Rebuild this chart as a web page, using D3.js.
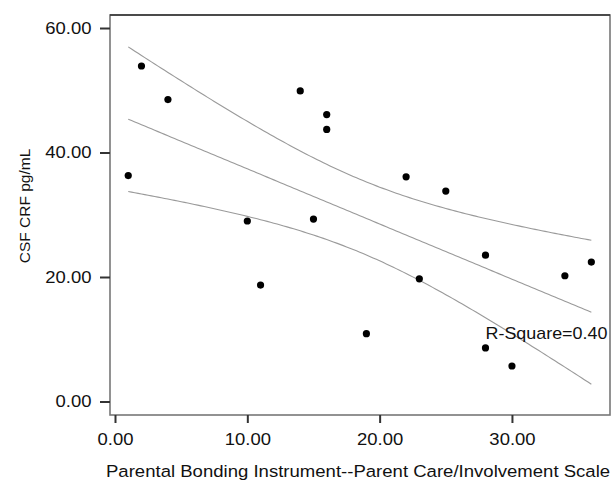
<!DOCTYPE html>
<html>
<head>
<meta charset="utf-8">
<script src="https://cdn.jsdelivr.net/npm/d3@7"></script>
<style>
  html, body { margin: 0; padding: 0; background: #fff; }
  svg text { font-family: "Liberation Sans", Arial, sans-serif; fill: #111; }
</style>
</head>
<body>
<svg id="chart" width="611" height="482"></svg>
<script>
// PBI parent care score (x) vs CSF CRF pg/mL (y)
const pbiCare = [1, 2, 4, 10, 11, 14, 15, 16, 16, 19, 22, 23, 25, 28, 28, 30, 34, 36];
const csfCrf = [36.3, 53.9, 48.5, 29.0, 18.7, 49.9, 29.3, 46.1, 43.7, 10.9, 36.1, 19.7, 33.8, 23.5, 8.6, 5.7, 20.2, 22.4];
const xTicks = [0, 10, 20, 30];
const yTicks = [0, 20, 40, 60];

const plotL = 110, plotR = 610, plotT = 15, plotB = 415;
const sx = 1.12; // labels in the source are a bit wide

const svg = d3.select("#chart");

const x = d3.scaleLinear().domain([-0.378, 37.41]).range([plotL, plotR]);
const y = d3.scaleLinear().domain([-2.17, 62.09]).range([plotB, plotT]);

// linear fit + 95% CI of the mean
const n = pbiCare.length;
const mx = d3.mean(pbiCare), my = d3.mean(csfCrf);
let sxx = 0, sxy = 0, syy = 0;
for (let i = 0; i < n; i++) {
  const dx = pbiCare[i] - mx, dy = csfCrf[i] - my;
  sxx += dx * dx; sxy += dx * dy; syy += dy * dy;
}
const slope = sxy / sxx;
const icpt = my - slope * mx;
const r2 = (sxy * sxy) / (sxx * syy);
const se = Math.sqrt(syy * (1 - r2) / (n - 2));
const tCrit = 2.12; // df = 16

const xs = d3.range(d3.min(pbiCare), d3.max(pbiCare) + 0.001, 0.25);
const band = xs.map(v => {
  const fit = icpt + slope * v;
  const h = tCrit * se * Math.sqrt(1 / n + (v - mx) * (v - mx) / sxx);
  return { x: v, fit: fit, lo: fit - h, hi: fit + h };
});

// frame
svg.append("rect")
  .attr("x", plotL).attr("y", plotT)
  .attr("width", plotR - plotL).attr("height", plotB - plotT)
  .attr("fill", "none").attr("stroke", "#777").attr("stroke-width", 1.6);
svg.append("line")
  .attr("x1", plotL).attr("x2", plotR).attr("y1", plotT).attr("y2", plotT)
  .attr("stroke", "#333").attr("stroke-width", 1.4);

// axes
const yAxis = svg.append("g")
  .attr("transform", `translate(${plotL},0)`)
  .call(d3.axisLeft(y).tickValues(yTicks).tickFormat(d3.format(".2f")).tickSize(10).tickSizeOuter(0));
yAxis.select(".domain").remove();
yAxis.selectAll(".tick line").attr("stroke", "#333").attr("stroke-width", 2);
yAxis.selectAll(".tick text")
  .attr("x", -18.5 / sx)
  .attr("transform", `scale(${sx},1)`)
  .style("font-size", "16.5px");

const xAxis = svg.append("g")
  .attr("transform", `translate(0,${plotB})`)
  .call(d3.axisBottom(x).tickValues(xTicks).tickFormat(d3.format(".2f")).tickSize(8).tickSizeOuter(0));
xAxis.select(".domain").remove();
xAxis.selectAll(".tick line").attr("stroke", "#333").attr("stroke-width", 2);
xAxis.selectAll(".tick text")
  .attr("y", 30).attr("dy", 0)
  .attr("transform", `scale(${sx},1)`)
  .style("font-size", "16.5px");

// fit lines
const lineOf = key => d3.line().x(d => x(d.x)).y(d => y(d[key]));
["hi", "fit", "lo"].forEach(k => {
  svg.append("path")
    .datum(band)
    .attr("d", lineOf(k))
    .attr("fill", "none")
    .attr("stroke", "#9a9a9a")
    .attr("stroke-width", 1.1);
});

// points
svg.append("g")
  .selectAll("circle")
  .data(pbiCare.map((v, i) => [v, csfCrf[i]]))
  .join("circle")
  .attr("cx", d => x(d[0]))
  .attr("cy", d => y(d[1]))
  .attr("r", 3.6)
  .attr("fill", "#000");

// R-square label
svg.append("text")
  .attr("transform", `translate(${x(28)},${y(10)}) scale(${sx},1)`)
  .style("font-size", "16px")
  .text("R-Square=" + r2.toFixed(2));

// axis titles
svg.append("text")
  .attr("transform", "translate(106,477) scale(1.125,1)")
  .style("font-size", "16.5px")
  .text("Parental Bonding Instrument--Parent Care/Involvement Scale");

svg.append("text")
  .attr("transform", "translate(30,206) rotate(-90)")
  .attr("text-anchor", "middle")
  .style("font-size", "15.5px")
  .text("CSF CRF pg/mL");
</script>
</body>
</html>
